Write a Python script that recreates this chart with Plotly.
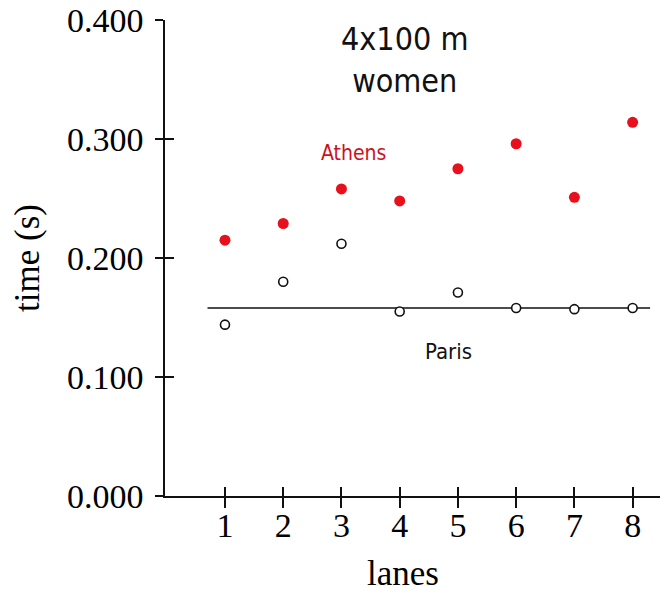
import plotly.graph_objects as go

lanes = [1, 2, 3, 4, 5, 6, 7, 8]
athens_time = [0.215, 0.229, 0.258, 0.248, 0.275, 0.296, 0.251, 0.314]
paris_time = [0.144, 0.180, 0.212, 0.155, 0.171, 0.158, 0.157, 0.158]
paris_ref_lane = [0.7, 8.3]
paris_ref_time = [0.158, 0.158]
y_ticks = [0.0, 0.1, 0.2, 0.3, 0.4]

serif = "Liberation Serif, Times New Roman, serif"
sans = "DejaVu Sans Condensed, DejaVu Sans, sans-serif"

fig = go.Figure()
fig.add_trace(go.Scatter(x=paris_ref_lane, y=paris_ref_time, mode="lines",
                         line=dict(color="#111", width=1.5), showlegend=False, hoverinfo="skip"))
fig.add_trace(go.Scatter(x=lanes, y=paris_time, mode="markers",
                         marker=dict(symbol="circle", size=9, color="white",
                                     line=dict(color="#111", width=1.6)),
                         showlegend=False))
fig.add_trace(go.Scatter(x=lanes, y=athens_time, mode="markers",
                         marker=dict(symbol="circle", size=11, color="#e8101c"),
                         showlegend=False))
# invisible trace for overlaid axes (inside ticks)
fig.add_trace(go.Scatter(x=[lanes[0]], y=[athens_time[0]], xaxis="x2", yaxis="y2",
                         mode="markers", marker=dict(opacity=0), showlegend=False, hoverinfo="skip"))

fig.update_layout(
    width=662, height=586,
    margin=dict(l=157, r=10, t=12, b=98),
    plot_bgcolor="white", paper_bgcolor="white",
    xaxis=dict(range=[-0.03, 8.47], tickvals=lanes, ticks="outside", ticklen=10,
               tickwidth=1.5, tickcolor="#111", showline=True, linecolor="#111",
               linewidth=1.5, showgrid=False, zeroline=False, automargin=False,
               ticklabeloverflow="allow", ticklabelstandoff=-12,
               tickfont=dict(family=serif, size=34, color="black")),
    yaxis=dict(range=[0, 0.4], tickvals=y_ticks, tickformat=".3f", ticks="outside", ticklen=8,
               tickwidth=1.5, tickcolor="#111", showline=True, linecolor="#111",
               linewidth=1.5, showgrid=False, zeroline=False, automargin=False,
               ticklabeloverflow="allow", ticklabelstandoff=5,
               tickfont=dict(family=serif, size=34, color="black")),
    xaxis2=dict(overlaying="x", matches="x", tickvals=lanes, ticks="inside", ticklen=9,
                tickwidth=1.5, tickcolor="#111", showticklabels=False, showline=False,
                showgrid=False, zeroline=False, automargin=False),
    yaxis2=dict(overlaying="y", matches="y", tickvals=y_ticks, ticks="inside", ticklen=9,
                tickwidth=1.5, tickcolor="#111", showticklabels=False, showline=False,
                showgrid=False, zeroline=False, automargin=False),
    annotations=[
        dict(x=4.08, y=0.366, xref="x", yref="y", text="4x100 m<br>women", showarrow=False,
             font=dict(family=sans, size=32, color="#111")),
        dict(x=3.21, y=0.288, xref="x", yref="y", text="Athens", showarrow=False,
             font=dict(family=sans, size=21, color="#d0101c")),
        dict(x=4.83, y=0.1217, xref="x", yref="y", text="Paris", showarrow=False,
             font=dict(family=sans, size=22, color="#111")),
        dict(x=0.48, y=-0.162, xref="paper", yref="paper", text="lanes", showarrow=False,
             font=dict(family=serif, size=35, color="black"), xanchor="center", yanchor="middle"),
        dict(x=-0.279, y=0.5, xref="paper", yref="paper", text="time (s)", showarrow=False,
             textangle=-90, xanchor="center", yanchor="middle",
             font=dict(family=serif, size=35, color="black")),
    ],
)

fig.write_html("out.html")
